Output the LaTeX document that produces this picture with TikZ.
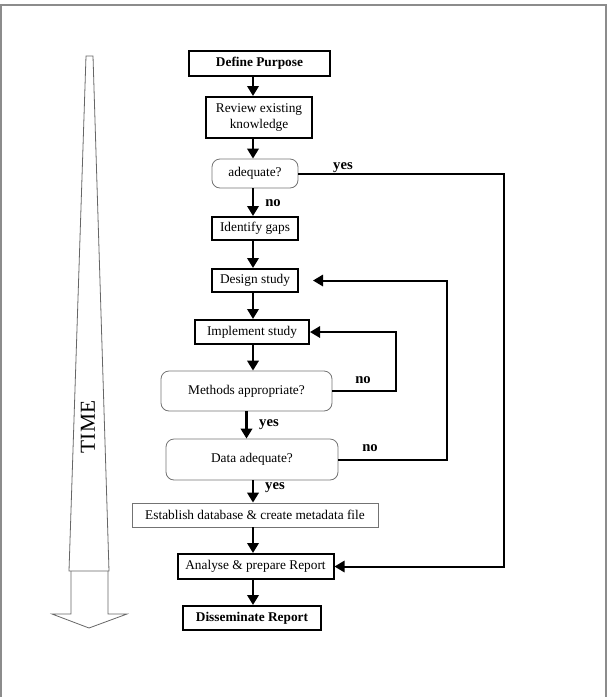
\documentclass[tikz,border=0pt]{standalone}
\usepackage{fontspec}
\setmainfont{Liberation Serif}
\usetikzlibrary{arrows.meta}

\tikzset{
  stepbox/.style={draw, line width=1.5pt, inner sep=0pt, align=center, font=\fontsize{10}{12}\selectfont},
  askbox/.style={draw=black!55, line width=0.6pt, rounded corners=6pt, inner sep=0pt, align=center, font=\fontsize{10}{12}\selectfont},
  thinbox/.style={draw=black!55, line width=0.6pt, inner sep=0pt, align=center, font=\fontsize{10}{12}\selectfont},
  flow/.style={line width=2pt, -{Triangle[length=7.5pt, width=8.5pt]}},
  backflow/.style={line width=1.5pt, -{Triangle[length=7.5pt, width=8.5pt]}},
  answer/.style={font=\fontsize{11}{13}\selectfont\bfseries, inner sep=0pt},
}

\begin{document}
\begin{tikzpicture}[x=0.75pt, y=-0.75pt]
      \useasboundingbox (0,0) rectangle (610,697);
      \draw[black!45, line width=1.2pt] (1,697) -- (1,5) -- (606,5) -- (606,697);

      \coordinate (spine) at (253,0);
      \coordinate (yesrail) at (504,0);
      \coordinate (methodsrail) at (396,0);
      \coordinate (datarail) at (447,0);

      \node[stepbox, minimum width=105.75pt, minimum height=18.75pt, font=\fontsize{10}{12}\selectfont\bfseries] (define) at (259.5,63.5) {Define Purpose};
      \node[stepbox, minimum width=79.5pt, minimum height=30.75pt] (review) at (259,117.5) {Review existing\\knowledge};
      \node[askbox, minimum width=64.5pt, minimum height=21.75pt] (adequate) at (255,173.5) {adequate?};
      \node[stepbox, minimum width=64.5pt, minimum height=17.25pt] (gaps) at (255,228.5) {Identify gaps};
      \node[stepbox, minimum width=64.5pt, minimum height=17.25pt] (design) at (255,280.5) {Design study};
      \node[stepbox, minimum width=85.5pt, minimum height=18pt] (implement) at (252,332) {Implement study};
      \node[askbox, minimum width=128.25pt, minimum height=30pt] (methods) at (246.5,391) {Methods appropriate?};
      \node[askbox, minimum width=129pt, minimum height=30.75pt] (data) at (252,459.5) {Data adequate?};
      \node[thinbox, minimum width=184.5pt, minimum height=18pt] (database) at (255,515) {Establish database \& create metadata file};
      \node[stepbox, minimum width=117pt, minimum height=18.75pt] (analyse) at (255.5,566.5) {Analyse \& prepare Report};
      \node[stepbox, minimum width=103.5pt, minimum height=18pt, font=\fontsize{10}{12}\selectfont\bfseries] (disseminate) at (252,618) {Disseminate Report};

      \foreach \a/\b in {define/review, review/adequate, adequate/gaps, gaps/design, design/implement, implement/methods, data/database, database/analyse, analyse/disseminate}
        \draw[flow] (\a.south -| spine) -- (\b.north -| spine);
      \draw[flow] (methods.south) -- (methods.south |- data.north);

      \draw[backflow] (adequate.east) -- (adequate.east -| yesrail) |- (analyse.east);
      \draw[backflow] (methods.east) -- (methods.east -| methodsrail) |- (implement.east);
      \draw[backflow, shorten >=10.5pt] (data.east) -- (data.east -| datarail) |- (design.east);

      \node[answer] (adequateyes) at (343,168) {yes};
      \node[answer] (adequateno) at (273,203) {no};
      \node[answer] (methodsno) at (363,380) {no};
      \node[answer] (methodsyes) at (269,425) {yes};
      \node[answer] (datano) at (370,448) {no};
      \node[answer] (datayes) at (275,488) {yes};

      \draw[black!60, line width=0.6pt] (86,56) -- (93,56) -- (109,571) -- (69,571) -- cycle;
      \draw[black!60, line width=0.6pt] (71,571) -- (71,614) -- (52,614) -- (89,628) -- (127,614) -- (108,614) -- (108,571);
      \node[rotate=90, font=\fontsize{16}{18}\selectfont] (time) at (88,427) {TIME};
    \end{tikzpicture}
\end{document}
